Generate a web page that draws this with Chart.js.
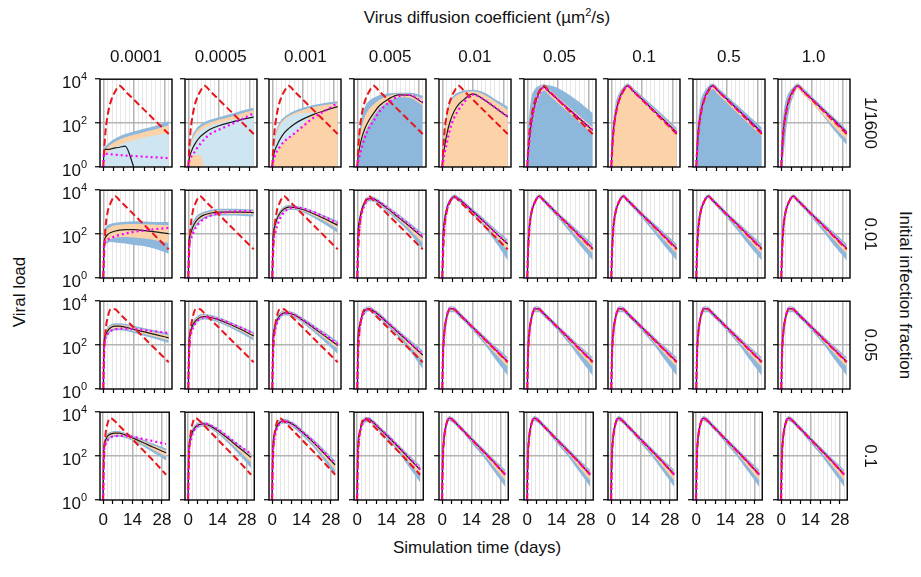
<!DOCTYPE html>
<html>
<head>
<meta charset="utf-8">
<script src="https://cdn.jsdelivr.net/npm/chart.js@4.4.1/dist/chart.umd.min.js"></script>
<style>
  body { margin: 0; background: #fff; font-family: 'Liberation Sans', Arial, sans-serif; }
  #wrap { position: relative; width: 921px; height: 577px; overflow: hidden; background: #fff; }
  canvas { position: absolute; }
  .lbl { position: absolute; font-size: 17px; color: #111; white-space: nowrap; transform: translate(-50%, -50%); }
  .rot90 { transform: translate(-50%, -50%) rotate(90deg); }
  .rotm90 { transform: translate(-50%, -50%) rotate(-90deg); }
</style>
</head>
<body>
<div id="wrap">
  <div class="lbl" style="left:487px;top:17px">Virus diffusion coefficient (µm<sup style="font-size:11px">2</sup>/s)</div>
  <div class="lbl" style="left:477px;top:548px">Simulation time (days)</div>
  <div class="lbl rotm90" style="left:20px;top:292px">Viral load</div>
  <div class="lbl rot90" style="left:905px;top:295px">Initial infection fraction</div>
</div>
<script>
// x positions (days) where the curves were read; all values below are log10(viral load)
const days = [0, 0.3, 1, 2, 3.5, 5.5, 7.5, 10, 14, 19, 24, 30];

const diffusionLabels = ['0.0001', '0.0005', '0.001', '0.005', '0.01', '0.05', '0.1', '0.5', '1.0'];
const fractionLabels = ['1/1600', '0.01', '0.05', '0.1'];
const xTickLabels = [0, 14, 28];
const xTickMarks = [0, 4.67, 9.33, 14, 18.67, 23.33, 28];
const xGridDays = [0, 2, 4, 6, 8, 10, 12, 14, 16, 18, 20, 22, 24, 26, 28, 30];
const yTickValues = [1, 100, 10000];
const yTickExps = ['0', '2', '4'];

const floorLine = [0, 0, 0, 0, 0, 0, 0, 0, 0, 0, 0, 0];

// red dashed reference model, one per row
const refR1 = [0, 0.6, 1.6, 2.35, 3.0, 3.45, 3.7, 3.46, 3.07, 2.58, 2.09, 1.5];
const refR2 = [0, 0.9, 2.25, 3.0, 3.45, 3.73, 3.53, 3.29, 2.89, 2.4, 1.9, 1.31];
const refR3 = [0, 1.3, 2.6, 3.25, 3.65, 3.63, 3.43, 3.19, 2.8, 2.3, 1.81, 1.22];
const refR4 = [0, 1.6, 2.85, 3.45, 3.73, 3.6, 3.4, 3.16, 2.76, 2.27, 1.78, 1.15];

// ---- row 1 (1/1600)
const lateMeanR1 = [0, 0.7, 1.7, 2.45, 3.05, 3.5, 3.7, 3.47, 3.1, 2.62, 2.15, 1.57];
const lateDotR1 = [0, 0.65, 1.65, 2.42, 3.03, 3.48, 3.69, 3.46, 3.09, 2.61, 2.13, 1.56];
const meanR1 = [
  [0, 0.7, 0.8, 0.8, 0.82, 0.87, 0.9, 0.95, 0, null, null, null],
  [0, 0.3, 0.6, 0.85, 1.12, 1.38, 1.55, 1.72, 1.88, 2.02, 2.15, 2.28],
  [0, 0.35, 0.7, 0.95, 1.25, 1.55, 1.75, 1.95, 2.18, 2.4, 2.57, 2.75],
  [0, 0.4, 0.85, 1.3, 1.75, 2.15, 2.45, 2.78, 3.08, 3.29, 3.27, 2.92],
  [0, 0.4, 0.9, 1.45, 2.05, 2.55, 2.85, 3.08, 3.33, 3.08, 2.72, 2.28],
  [0, 0.6, 1.3, 2.1, 2.85, 3.4, 3.65, 3.43, 3.08, 2.64, 2.2, 1.67],
  lateMeanR1, lateMeanR1, lateMeanR1
];
const dotR1 = [
  [0, 0.6, 0.6, 0.6, 0.58, 0.56, 0.55, 0.52, 0.5, 0.47, 0.44, 0.4],
  [0, 0.2, 0.4, 0.55, 0.78, 1.05, 1.28, 1.5, 1.7, 1.92, 2.15, 2.45],
  [0, 0.2, 0.45, 0.7, 0.92, 1.17, 1.33, 1.52, 1.85, 2.25, 2.55, 2.92],
  [0, 0.2, 0.5, 0.85, 1.35, 1.8, 2.1, 2.5, 2.9, 3.22, 3.28, 2.95],
  [0, 0.2, 0.6, 1.05, 1.7, 2.25, 2.6, 2.95, 3.3, 3.08, 2.73, 2.3],
  [0, 0.5, 1.2, 2.0, 2.78, 3.35, 3.62, 3.42, 3.08, 2.64, 2.2, 1.68],
  lateDotR1, lateDotR1, lateDotR1
];
const blueHiR1 = [
  [0, 0.8, 0.95, 1.05, 1.17, 1.3, 1.4, 1.5, 1.62, 1.75, 1.88, 2.1],
  [0, 0.6, 1.1, 1.45, 1.72, 1.92, 2.05, 2.15, 2.27, 2.4, 2.55, 2.7],
  [0, 0.8, 1.3, 1.7, 2.05, 2.28, 2.42, 2.55, 2.7, 2.83, 2.92, 3.0],
  [0, 1.0, 1.6, 2.2, 2.75, 3.02, 3.15, 3.27, 3.35, 3.38, 3.38, 3.25],
  [0, 1.0, 1.7, 2.4, 3.0, 3.28, 3.4, 3.48, 3.52, 3.4, 3.1, 2.75],
  [0, 1.5, 2.5, 3.2, 3.55, 3.7, 3.76, 3.72, 3.6, 3.3, 2.95, 2.45],
  [0, 1.2, 2.2, 2.9, 3.35, 3.65, 3.8, 3.6, 3.25, 2.8, 2.35, 1.78],
  [0, 1.3, 2.3, 3.0, 3.4, 3.68, 3.8, 3.6, 3.25, 2.8, 2.35, 1.8],
  [0, 1.5, 2.4, 3.0, 3.4, 3.65, 3.8, 3.6, 3.22, 2.75, 2.28, 1.7]
];
const blueLoR1 = [
  floorLine, floorLine, floorLine, floorLine, floorLine, floorLine, floorLine, floorLine,
  [0, 0, 0.5, 1.5, 2.5, 3.2, 3.55, 3.3, 2.9, 2.35, 1.7, 1.0]
];
const orangeHiR1 = [
  [0, 0.65, 0.8, 0.9, 1.02, 1.15, 1.25, 1.35, 1.47, 1.6, 1.72, 1.9],
  [0, 0.5, 0.98, 1.33, 1.6, 1.8, 1.93, 2.03, 2.15, 2.28, 2.43, 2.58],
  [0, 0.7, 1.2, 1.6, 1.95, 2.18, 2.32, 2.45, 2.6, 2.73, 2.82, 2.9],
  [0, 0.8, 1.3, 1.8, 2.3, 2.65, 2.85, 3.05, 3.23, 3.34, 3.33, 3.1],
  [0, 0.9, 1.55, 2.25, 2.85, 3.18, 3.3, 3.4, 3.45, 3.3, 3.0, 2.6],
  [0, 0.8, 1.5, 2.3, 3.0, 3.52, 3.75, 3.53, 3.18, 2.75, 2.32, 1.8],
  [0, 1.0, 2.0, 2.7, 3.2, 3.58, 3.75, 3.53, 3.17, 2.7, 2.24, 1.66],
  [0, 0.8, 1.8, 2.5, 3.08, 3.52, 3.72, 3.5, 3.13, 2.65, 2.18, 1.6],
  [0, 0.9, 1.85, 2.55, 3.12, 3.55, 3.76, 3.53, 3.16, 2.68, 2.2, 1.62]
];
const orangeLoR1 = [
  floorLine, floorLine, floorLine,
  [0, 0.2, 0.6, 1.1, 1.55, 1.95, 2.3, 2.65, 2.95, 3.18, 3.15, 2.8],
  floorLine,
  [0, 0.3, 1.0, 1.8, 2.6, 3.2, 3.48, 3.28, 2.92, 2.48, 2.03, 1.48],
  floorLine,
  [0, 0.4, 1.4, 2.2, 2.85, 3.33, 3.55, 3.3, 2.93, 2.45, 1.97, 1.4],
  [0, 0.2, 1.2, 2.1, 2.8, 3.3, 3.55, 3.3, 2.9, 2.38, 1.85, 1.25]
];
const cyanHiR1 = [
  [0, 0.45, 0.55, 0.65, 0.78, 0.9, 1.0, 1.1, 1.22, 1.35, 1.45, 1.55],
  [0, 0.4, 0.85, 1.2, 1.45, 1.65, 1.78, 1.88, 2.0, 2.12, 2.25, 2.4],
  [0, 0.6, 1.1, 1.5, 1.85, 2.1, 2.25, 2.38, 2.45, 2.5, 2.6, 2.8],
  null, null, null, null, null, null
];
const cyanLoR1 = [
  floorLine,
  [0, 0.4, 0.55, 0.55, 0.55, 0.55, 0, 0, 0, 0, 0, 0],
  [0, 0.2, 0.45, 0.7, 0.92, 1.17, 1.33, 1.52, 1.95, 2.45, 2.6, 2.8],
  null, null, null, null, null, null
];

// ---- row 2 (0.01)
const lateMeanR2 = [0, 1.2, 2.35, 3.02, 3.47, 3.73, 3.54, 3.3, 2.9, 2.42, 1.93, 1.35];
const lateBlueHiR2 = [0, 1.8, 2.7, 3.2, 3.57, 3.82, 3.64, 3.4, 3.0, 2.55, 2.1, 1.55];
const lateBlueLoR2 = [0, 0.5, 1.9, 2.8, 3.35, 3.63, 3.44, 3.18, 2.75, 2.15, 1.5, 0.8];
const lateOrangeHiR2 = [0, 1.5, 2.5, 3.1, 3.52, 3.78, 3.59, 3.35, 2.95, 2.48, 2.01, 1.45];
const lateOrangeLoR2 = [0, 0.9, 2.15, 2.92, 3.41, 3.68, 3.49, 3.24, 2.83, 2.3, 1.75, 1.1];
const meanR2 = [
  [0, 1.5, 1.85, 1.98, 2.07, 2.14, 2.18, 2.2, 2.2, 2.16, 2.1, 2.02],
  [0, 1.6, 2.0, 2.3, 2.58, 2.78, 2.88, 2.95, 3.0, 3.0, 3.0, 2.98],
  [0, 1.8, 2.3, 2.65, 2.95, 3.15, 3.23, 3.22, 3.12, 2.93, 2.7, 2.4],
  [0, 1.9, 2.6, 3.1, 3.45, 3.62, 3.6, 3.45, 3.15, 2.75, 2.35, 1.85],
  [0, 1.7, 2.6, 3.15, 3.52, 3.7, 3.6, 3.4, 3.03, 2.58, 2.1, 1.55],
  lateMeanR2, lateMeanR2, lateMeanR2, lateMeanR2
];
const dotR2 = [
  [0, 1.4, 1.68, 1.75, 1.82, 1.9, 1.96, 2.02, 2.1, 2.17, 2.23, 2.28],
  [0, 1.3, 1.7, 2.0, 2.3, 2.55, 2.7, 2.83, 2.95, 3.02, 3.05, 3.05],
  [0, 1.4, 1.9, 2.3, 2.7, 3.0, 3.15, 3.22, 3.17, 3.0, 2.78, 2.5],
  [0, 1.5, 2.3, 2.9, 3.35, 3.6, 3.6, 3.47, 3.18, 2.8, 2.4, 1.9],
  [0, 1.4, 2.4, 3.05, 3.48, 3.69, 3.6, 3.4, 3.03, 2.58, 2.1, 1.56],
  lateMeanR2, lateMeanR2, lateMeanR2, lateMeanR2
];
const blueHiR2 = [
  [0, 2.0, 2.3, 2.4, 2.47, 2.52, 2.54, 2.56, 2.58, 2.57, 2.55, 2.55],
  [0, 2.0, 2.3, 2.55, 2.8, 2.95, 3.03, 3.1, 3.15, 3.15, 3.14, 3.12],
  [0, 2.1, 2.5, 2.8, 3.08, 3.27, 3.33, 3.32, 3.22, 3.05, 2.85, 2.6],
  [0, 2.2, 2.8, 3.25, 3.55, 3.72, 3.7, 3.55, 3.27, 2.9, 2.52, 2.05],
  [0, 2.1, 2.8, 3.3, 3.62, 3.8, 3.7, 3.5, 3.14, 2.72, 2.27, 1.75],
  lateBlueHiR2, lateBlueHiR2, lateBlueHiR2, lateBlueHiR2
];
const blueLoR2 = [
  [0, 1.0, 1.5, 1.6, 1.64, 1.62, 1.6, 1.57, 1.5, 1.45, 1.32, 1.1],
  [0, 1.2, 1.7, 2.0, 2.33, 2.57, 2.7, 2.8, 2.85, 2.85, 2.84, 2.8],
  [0, 1.3, 2.0, 2.45, 2.8, 3.02, 3.1, 3.1, 2.98, 2.75, 2.45, 2.05],
  [0, 1.3, 2.3, 2.9, 3.3, 3.5, 3.48, 3.32, 3.0, 2.55, 2.05, 1.3],
  [0, 1.0, 2.2, 2.95, 3.38, 3.6, 3.5, 3.28, 2.88, 2.35, 1.7, 0.8],
  lateBlueLoR2, lateBlueLoR2, lateBlueLoR2, lateBlueLoR2
];
const orangeHiR2 = [
  [0, 1.8, 2.15, 2.26, 2.34, 2.4, 2.43, 2.45, 2.46, 2.45, 2.43, 2.4],
  [0, 1.8, 2.15, 2.42, 2.68, 2.86, 2.95, 3.02, 3.07, 3.07, 3.07, 3.05],
  [0, 1.95, 2.4, 2.72, 3.01, 3.21, 3.28, 3.27, 3.17, 2.99, 2.77, 2.5],
  [0, 2.05, 2.7, 3.17, 3.5, 3.67, 3.65, 3.5, 3.21, 2.82, 2.43, 1.95],
  [0, 1.9, 2.7, 3.22, 3.57, 3.75, 3.65, 3.45, 3.08, 2.65, 2.18, 1.65],
  lateOrangeHiR2, lateOrangeHiR2, lateOrangeHiR2, lateOrangeHiR2
];
const orangeLoR2 = [
  [0, 1.2, 1.6, 1.72, 1.78, 1.83, 1.86, 1.87, 1.85, 1.8, 1.72, 1.6],
  [0, 1.4, 1.85, 2.15, 2.45, 2.67, 2.79, 2.87, 2.92, 2.92, 2.92, 2.9],
  [0, 1.55, 2.15, 2.55, 2.87, 3.08, 3.16, 3.16, 3.05, 2.84, 2.58, 2.23],
  [0, 1.6, 2.45, 3.0, 3.37, 3.56, 3.54, 3.38, 3.07, 2.65, 2.2, 1.6],
  [0, 1.3, 2.4, 3.05, 3.45, 3.65, 3.55, 3.34, 2.95, 2.47, 1.92, 1.25],
  lateOrangeLoR2, lateOrangeLoR2, lateOrangeLoR2, lateOrangeLoR2
];

// ---- row 3 (0.05)
const lateMeanR3 = [0, 1.6, 2.65, 3.27, 3.66, 3.64, 3.44, 3.2, 2.81, 2.32, 1.83, 1.25];
const lateBlueHiR3 = [0, 2.2, 2.95, 3.45, 3.77, 3.75, 3.55, 3.3, 2.92, 2.45, 1.98, 1.45];
const lateBlueLoR3 = [0, 0.8, 2.2, 3.05, 3.5, 3.5, 3.3, 3.07, 2.65, 2.08, 1.4, 0.6];
const lateOrangeHiR3 = [0, 1.9, 2.8, 3.36, 3.72, 3.7, 3.5, 3.25, 2.87, 2.39, 1.91, 1.35];
const lateOrangeLoR3 = [0, 1.2, 2.45, 3.17, 3.58, 3.57, 3.37, 3.13, 2.73, 2.2, 1.65, 1.0];
const meanR3 = [
  [0, 2.0, 2.45, 2.65, 2.8, 2.86, 2.86, 2.82, 2.72, 2.6, 2.48, 2.33],
  [0, 2.1, 2.6, 2.9, 3.12, 3.27, 3.3, 3.27, 3.15, 2.95, 2.72, 2.42],
  [0, 2.2, 2.75, 3.08, 3.35, 3.47, 3.46, 3.38, 3.13, 2.78, 2.42, 1.98],
  [0, 2.2, 2.85, 3.3, 3.58, 3.66, 3.55, 3.36, 3.0, 2.55, 2.1, 1.55],
  lateMeanR3, lateMeanR3, lateMeanR3, lateMeanR3, lateMeanR3
];
const dotR3 = [
  [0, 1.8, 2.3, 2.5, 2.65, 2.72, 2.75, 2.75, 2.73, 2.68, 2.62, 2.55],
  [0, 1.8, 2.4, 2.75, 3.02, 3.2, 3.27, 3.27, 3.18, 3.0, 2.8, 2.52],
  [0, 1.9, 2.55, 2.95, 3.28, 3.45, 3.46, 3.39, 3.15, 2.82, 2.48, 2.05],
  [0, 1.9, 2.7, 3.2, 3.53, 3.65, 3.56, 3.37, 3.02, 2.57, 2.12, 1.58],
  lateMeanR3, lateMeanR3, lateMeanR3, lateMeanR3, lateMeanR3
];
const blueHiR3 = [
  [0, 2.3, 2.65, 2.82, 2.95, 3.0, 3.0, 2.97, 2.88, 2.77, 2.66, 2.55],
  [0, 2.4, 2.8, 3.07, 3.27, 3.4, 3.42, 3.38, 3.27, 3.08, 2.86, 2.6],
  [0, 2.5, 2.95, 3.25, 3.48, 3.58, 3.57, 3.49, 3.25, 2.92, 2.58, 2.17],
  [0, 2.5, 3.05, 3.45, 3.7, 3.77, 3.66, 3.47, 3.12, 2.68, 2.25, 1.75],
  lateBlueHiR3, lateBlueHiR3, lateBlueHiR3, lateBlueHiR3, lateBlueHiR3
];
const blueLoR3 = [
  [0, 1.6, 2.2, 2.45, 2.6, 2.68, 2.68, 2.65, 2.55, 2.42, 2.28, 2.1],
  [0, 1.7, 2.35, 2.72, 2.97, 3.13, 3.17, 3.14, 3.02, 2.8, 2.55, 2.2],
  [0, 1.8, 2.5, 2.9, 3.2, 3.35, 3.34, 3.26, 3.0, 2.6, 2.15, 1.6],
  [0, 1.7, 2.6, 3.1, 3.42, 3.54, 3.43, 3.23, 2.85, 2.35, 1.75, 0.9],
  lateBlueLoR3, lateBlueLoR3, lateBlueLoR3, lateBlueLoR3, lateBlueLoR3
];
const orangeHiR3 = [
  [0, 2.15, 2.55, 2.74, 2.88, 2.93, 2.93, 2.9, 2.8, 2.69, 2.57, 2.44],
  [0, 2.25, 2.7, 2.99, 3.2, 3.34, 3.36, 3.33, 3.21, 3.02, 2.79, 2.51],
  [0, 2.35, 2.85, 3.17, 3.42, 3.53, 3.52, 3.44, 3.19, 2.85, 2.5, 2.08],
  [0, 2.35, 2.95, 3.38, 3.64, 3.72, 3.61, 3.42, 3.06, 2.62, 2.18, 1.65],
  lateOrangeHiR3, lateOrangeHiR3, lateOrangeHiR3, lateOrangeHiR3, lateOrangeHiR3
];
const orangeLoR3 = [
  [0, 1.8, 2.32, 2.55, 2.7, 2.77, 2.77, 2.74, 2.64, 2.51, 2.38, 2.22],
  [0, 1.9, 2.48, 2.81, 3.05, 3.2, 3.24, 3.21, 3.09, 2.88, 2.64, 2.32],
  [0, 2.0, 2.63, 2.99, 3.28, 3.41, 3.4, 3.32, 3.06, 2.7, 2.3, 1.82],
  [0, 1.95, 2.73, 3.2, 3.5, 3.6, 3.49, 3.3, 2.93, 2.46, 1.95, 1.3],
  lateOrangeLoR3, lateOrangeLoR3, lateOrangeLoR3, lateOrangeLoR3, lateOrangeLoR3
];

// ---- row 4 (0.1)
const lateMeanR4 = [0, 1.9, 2.9, 3.46, 3.73, 3.61, 3.41, 3.17, 2.77, 2.28, 1.79, 1.17];
const lateBlueHiR4 = [0, 2.4, 3.15, 3.6, 3.83, 3.72, 3.52, 3.28, 2.88, 2.4, 1.93, 1.38];
const lateBlueLoR4 = [0, 1.0, 2.5, 3.25, 3.6, 3.5, 3.3, 3.05, 2.6, 2.05, 1.4, 0.6];
const lateOrangeHiR4 = [0, 2.15, 3.02, 3.53, 3.78, 3.67, 3.47, 3.23, 2.83, 2.34, 1.86, 1.28];
const lateOrangeLoR4 = [0, 1.5, 2.7, 3.36, 3.66, 3.55, 3.36, 3.11, 2.69, 2.17, 1.6, 0.9];
const meanR4 = [
  [0, 2.3, 2.7, 2.9, 3.0, 3.05, 3.05, 2.98, 2.83, 2.62, 2.4, 2.15],
  [0, 2.2, 2.8, 3.1, 3.33, 3.44, 3.47, 3.4, 3.17, 2.8, 2.4, 1.95],
  [0, 2.3, 2.95, 3.3, 3.52, 3.6, 3.56, 3.44, 3.12, 2.68, 2.2, 1.6],
  [0, 2.3, 3.0, 3.4, 3.65, 3.68, 3.55, 3.32, 2.95, 2.47, 1.97, 1.38],
  lateMeanR4, lateMeanR4, lateMeanR4, lateMeanR4, lateMeanR4
];
const dotR4 = [
  [0, 2.0, 2.5, 2.7, 2.85, 2.9, 2.92, 2.92, 2.88, 2.78, 2.68, 2.55],
  [0, 2.0, 2.6, 2.98, 3.27, 3.43, 3.48, 3.43, 3.22, 2.88, 2.5, 2.1],
  [0, 2.0, 2.75, 3.18, 3.47, 3.59, 3.57, 3.45, 3.14, 2.72, 2.25, 1.65],
  [0, 2.0, 2.85, 3.3, 3.62, 3.68, 3.56, 3.33, 2.97, 2.5, 2.0, 1.4],
  lateMeanR4, lateMeanR4, lateMeanR4, lateMeanR4, lateMeanR4
];
const blueHiR4 = [
  [0, 2.5, 2.85, 3.02, 3.1, 3.14, 3.14, 3.08, 2.95, 2.76, 2.56, 2.35],
  [0, 2.5, 3.0, 3.25, 3.45, 3.55, 3.57, 3.5, 3.28, 2.93, 2.55, 2.12],
  [0, 2.6, 3.12, 3.43, 3.63, 3.7, 3.66, 3.54, 3.24, 2.82, 2.37, 1.8],
  [0, 2.6, 3.15, 3.52, 3.76, 3.78, 3.65, 3.43, 3.07, 2.6, 2.12, 1.58],
  lateBlueHiR4, lateBlueHiR4, lateBlueHiR4, lateBlueHiR4, lateBlueHiR4
];
const blueLoR4 = [
  [0, 1.9, 2.45, 2.68, 2.82, 2.88, 2.88, 2.84, 2.7, 2.45, 2.15, 1.8],
  [0, 1.8, 2.55, 2.92, 3.18, 3.32, 3.35, 3.28, 3.03, 2.6, 2.1, 1.45],
  [0, 1.8, 2.65, 3.1, 3.38, 3.48, 3.44, 3.3, 2.97, 2.48, 1.9, 1.1],
  [0, 1.7, 2.7, 3.2, 3.5, 3.55, 3.42, 3.18, 2.8, 2.25, 1.6, 0.8],
  lateBlueLoR4, lateBlueLoR4, lateBlueLoR4, lateBlueLoR4, lateBlueLoR4
];
const orangeHiR4 = [
  [0, 2.4, 2.78, 2.96, 3.05, 3.1, 3.1, 3.03, 2.89, 2.69, 2.48, 2.25],
  [0, 2.35, 2.9, 3.18, 3.39, 3.5, 3.52, 3.45, 3.22, 2.87, 2.48, 2.04],
  [0, 2.45, 3.04, 3.37, 3.58, 3.65, 3.61, 3.49, 3.18, 2.75, 2.29, 1.7],
  [0, 2.45, 3.08, 3.46, 3.71, 3.73, 3.6, 3.38, 3.01, 2.54, 2.05, 1.48],
  lateOrangeHiR4, lateOrangeHiR4, lateOrangeHiR4, lateOrangeHiR4, lateOrangeHiR4
];
const orangeLoR4 = [
  [0, 2.1, 2.58, 2.79, 2.91, 2.96, 2.96, 2.91, 2.76, 2.54, 2.28, 1.98],
  [0, 2.0, 2.68, 3.01, 3.26, 3.38, 3.41, 3.34, 3.1, 2.7, 2.25, 1.7],
  [0, 2.05, 2.8, 3.2, 3.45, 3.54, 3.5, 3.37, 3.05, 2.58, 2.05, 1.35],
  [0, 2.0, 2.85, 3.3, 3.58, 3.62, 3.49, 3.25, 2.88, 2.36, 1.8, 1.1],
  lateOrangeLoR4, lateOrangeLoR4, lateOrangeLoR4, lateOrangeLoR4, lateOrangeLoR4
];

const noBand = [null, null, null, null, null, null, null, null, null];
const rows = [
  { ref: refR1, mean: meanR1, dot: dotR1, blueHi: blueHiR1, blueLo: blueLoR1, orangeHi: orangeHiR1, orangeLo: orangeLoR1, cyanHi: cyanHiR1, cyanLo: cyanLoR1 },
  { ref: refR2, mean: meanR2, dot: dotR2, blueHi: blueHiR2, blueLo: blueLoR2, orangeHi: orangeHiR2, orangeLo: orangeLoR2, cyanHi: noBand, cyanLo: noBand },
  { ref: refR3, mean: meanR3, dot: dotR3, blueHi: blueHiR3, blueLo: blueLoR3, orangeHi: orangeHiR3, orangeLo: orangeLoR3, cyanHi: noBand, cyanLo: noBand },
  { ref: refR4, mean: meanR4, dot: dotR4, blueHi: blueHiR4, blueLo: blueLoR4, orangeHi: orangeHiR4, orangeLo: orangeLoR4, cyanHi: noBand, cyanLo: noBand }
];

const FONT = "'Liberation Sans', Arial, sans-serif";
const BLUE = '#8eb7dc';
const ORANGE = '#fcd3a8';
const CYAN = '#cde6f1';
const RED = '#e8161b';
const MAGENTA = '#ff00ff';

// panel geometry
const panelLeft0 = 100, panelPitchX = 84.7, panelW = 72;
const panelTop0 = 79, panelPitchY = 111, panelH = 88;
const padLeft = 45, padTop = 10, padRight = 6, padBottom = 32;

const toPoints = arr => arr.map((v, i) => ({ x: days[i], y: v === null ? null : Math.pow(10, v) }));

const framePlugin = {
  id: 'frame',
  afterDraw(chart) {
    const { ctx, chartArea: a } = chart;
    ctx.save();
    ctx.strokeStyle = '#000';
    ctx.lineWidth = 1.4;
    ctx.strokeRect(a.left, a.top, a.right - a.left, a.bottom - a.top);
    ctx.restore();
  }
};

const yLabelPlugin = {
  id: 'ylabels',
  afterDraw(chart) {
    const { ctx, chartArea: a } = chart;
    const ys = chart.scales.y;
    ctx.save();
    ctx.fillStyle = '#111';
    ctx.textBaseline = 'alphabetic';
    yTickValues.forEach((v, i) => {
      const py = ys.getPixelForValue(v);
      ctx.font = '17px ' + FONT;
      ctx.textAlign = 'right';
      ctx.fillText('10', a.left - 19, py + 9);
      ctx.font = '11px ' + FONT;
      ctx.textAlign = 'left';
      ctx.fillText(yTickExps[i], a.left - 19, py + 1);
    });
    ctx.restore();
  }
};

const wrap = document.getElementById('wrap');

function band(lo, hi, color, order) {
  if (!lo || !hi) return [];
  return [
    { data: toPoints(lo), borderWidth: 0, pointRadius: 0, fill: false, order: order },
    { data: toPoints(hi), borderWidth: 0, pointRadius: 0, fill: '-1', backgroundColor: color, order: order }
  ];
}

rows.forEach((row, r) => {
  for (let c = 0; c < 9; c++) {
    const left = panelLeft0 + panelPitchX * c;
    const top = panelTop0 + panelPitchY * r;
    const cv = document.createElement('canvas');
    cv.width = padLeft + panelW + padRight;
    cv.height = padTop + panelH + padBottom;
    cv.style.left = (left - padLeft) + 'px';
    cv.style.top = (top - padTop) + 'px';
    wrap.appendChild(cv);

    const showX = r === rows.length - 1;
    const datasets = [
      { data: toPoints(row.dot[c]), borderColor: MAGENTA, borderWidth: 2.2, borderDash: [2, 3], pointRadius: 0, fill: false, order: 0 },
      { data: toPoints(row.ref), borderColor: RED, borderWidth: 2, borderDash: [7, 3.5], pointRadius: 0, fill: false, order: 1 },
      { data: toPoints(row.mean[c]), borderColor: '#1a1a1a', borderWidth: 1.2, pointRadius: 0, fill: false, order: 2 },
      ...band(row.cyanLo[c], row.cyanHi[c], CYAN, 3),
      ...band(row.orangeLo[c], row.orangeHi[c], ORANGE, 4),
      ...band(row.blueLo[c], row.blueHi[c], BLUE, 5)
    ];

    new Chart(cv, {
      type: 'line',
      data: { datasets: datasets },
      options: {
        responsive: false,
        animation: false,
        events: [],
        layout: { padding: { top: padTop, right: padRight, left: 0, bottom: 0 } },
        elements: { line: { cubicInterpolationMode: 'monotone' }, point: { radius: 0 } },
        plugins: { legend: { display: false }, tooltip: { enabled: false } },
        scales: {
          x: {
            type: 'linear', min: -1.5, max: 31.5, position: 'bottom', weight: 0,
            afterBuildTicks: s => { s.ticks = xTickMarks.map(v => ({ value: v })); },
            afterFit: s => { s.height = padBottom; },
            border: { display: false },
            grid: { drawOnChartArea: false, drawTicks: true, tickLength: 4, tickColor: '#000', tickWidth: 1.2 },
            ticks: {
              autoSkip: false, maxRotation: 0, padding: 6, color: '#111',
              font: { size: 17, family: FONT },
              callback: v => (showX && xTickLabels.includes(v)) ? String(v) : ''
            }
          },
          xg: {
            type: 'linear', min: -1.5, max: 31.5, position: 'bottom', weight: 1,
            afterBuildTicks: s => { s.ticks = xGridDays.map(v => ({ value: v })); },
            afterFit: s => { s.height = 0; },
            border: { display: false },
            ticks: { display: false },
            grid: {
              drawTicks: false,
              color: ctx => xTickLabels.includes(ctx.tick.value) ? '#b4b4b4' : '#e6e6e6',
              lineWidth: ctx => xTickLabels.includes(ctx.tick.value) ? 1.5 : 1
            }
          },
          y: {
            type: 'logarithmic', min: 1, max: 10000,
            afterBuildTicks: s => { s.ticks = yTickValues.map(v => ({ value: v })); },
            afterFit: s => { s.width = padLeft; },
            border: { display: false },
            ticks: { callback: () => '' },
            grid: {
              tickLength: 5, tickColor: '#000', tickWidth: 1.2,
              color: ctx => (ctx.tick && ctx.tick.value === 100) ? '#b4b4b4' : 'rgba(0,0,0,0)',
              lineWidth: 1.5
            }
          }
        }
      },
      plugins: c === 0 ? [framePlugin, yLabelPlugin] : [framePlugin]
    });
  }
});

// column and row labels
diffusionLabels.forEach((t, c) => {
  const d = document.createElement('div');
  d.className = 'lbl';
  d.style.left = (panelLeft0 + panelPitchX * c + panelW / 2) + 'px';
  d.style.top = '57px';
  d.textContent = t;
  wrap.appendChild(d);
});
fractionLabels.forEach((t, r) => {
  const d = document.createElement('div');
  d.className = 'lbl rot90';
  d.style.left = '870px';
  d.style.top = (panelTop0 + panelPitchY * r + panelH / 2) + 'px';
  d.textContent = t;
  wrap.appendChild(d);
});
</script>
</body>
</html>
